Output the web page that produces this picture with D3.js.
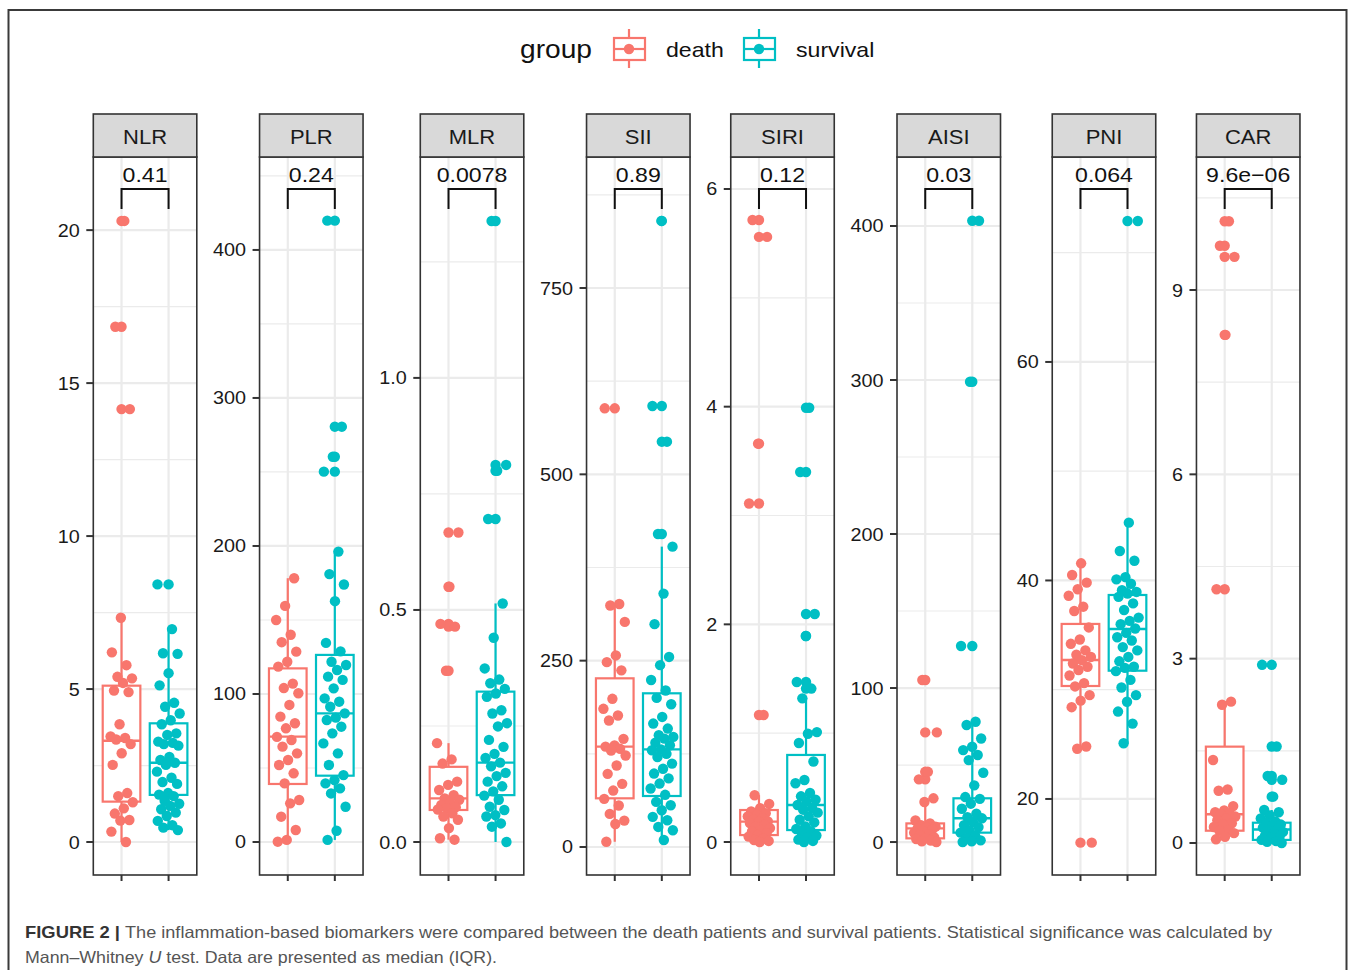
<!DOCTYPE html>
<html><head><meta charset="utf-8">
<script src="https://cdn.jsdelivr.net/npm/d3@7"></script>
<style>
body{margin:0;background:#fff}
svg{display:block}
text{font-family:"Liberation Sans", Arial, Helvetica, sans-serif}
</style>
</head><body>
<svg id="chart" width="1357" height="970"></svg>
<script>
// ---------------- data ----------------
const panels = ["NLR","PLR","MLR","SII","SIRI","AISI","PNI","CAR"];
const groups = ["death","survival"];
const pValues = ["0.41","0.24","0.0078","0.89","0.12","0.03","0.064","9.6e\u221206"];
const yLimits = [[-1.078,22.39],[-22.3,462.8],[-0.0711,1.476],[-37.6,925.8],[-0.303,6.294],[-21.4,444.8],[13.04,78.76],[-0.521,11.165]];
const yTicks = [[0,5,10,15,20],[0,100,200,300,400],[0,0.5,1.0],[0,250,500,750],[0,2,4,6],[0,100,200,300,400],[20,40,60],[0,3,6,9]];
const yTickLabels = [["0","5","10","15","20"],["0","100","200","300","400"],["0.0","0.5","1.0"],["0","250","500","750"],["0","2","4","6"],["0","100","200","300","400"],["20","40","60"],["0","3","6","9"]];

// box statistics (per panel)
const deathQ1     = [1.32, 39.2, 0.069, 65.3, 0.064, 2.4, 30.34, 0.2];
const deathMedian = [3.31, 71.2, 0.094, 134.6, 0.187, 8.9, 32.72, 0.467];
const deathQ3     = [5.11, 117.3, 0.162, 226.3, 0.294, 12.1, 36.02, 1.568];
const deathLower  = [0, 0.2, 0.005, 7, 0, 0, 24.6, 0.06];
const deathUpper  = [7.33, 178.2, 0.213, 326, 0.43, 28.4, 41.57, 2.3];
const survQ1      = [1.54, 44.8, 0.101, 68.4, 0.11, 6.1, 31.74, 0.05];
const survMedian  = [2.59, 86.9, 0.171, 131, 0.34, 15.4, 35.56, 0.22];
const survQ3      = [3.88, 126.4, 0.324, 206.2, 0.80, 28.4, 38.67, 0.33];
const survLower   = [0.39, 1.4, 0, 9.4, 0, 0, 25.1, 0];
const survUpper   = [6.96, 196.2, 0.514, 403, 1.32, 78.1, 45.29, 0.537];

// individual observations
const nlrDeath = [20.3,16.84,14.15,7.33,6.2,5.78,5.4,5.35,5.2,4.95,4.9,3.85,3.45,3.4,3.35,3.2,2.9,2.52,1.6,1.5,1.3,1.1,0.93,0.72,0.7,0.34,0.0];
const nlrSurvival = [8.42,6.96,6.17,6.15,5.52,5.12,4.55,4.42,4.2,3.98,3.85,3.55,3.5,3.28,3.24,3.2,3.15,2.78,2.68,2.59,2.52,2.3,2.1,1.96,1.9,1.6,1.55,1.5,1.35,1.25,1.18,1.07,0.96,0.85,0.69,0.55,0.47,0.39];
const plrDeath = [178.2,159.5,150,140,135,128.6,121.8,118.5,107,104,100.5,92.6,84.7,80.2,76.8,71,68.9,64.4,59.9,55.4,52,46.4,39.6,28.4,26.1,17.1,8.1,1.4,0.2];
const plrSurvival = [419.8,280.6,260.3,250.2,196.2,181,174,162.7,134.5,128.8,121.8,119.6,116.2,111.7,109.5,103.8,97,94.8,91.4,86.9,84,82.4,77.9,73.4,66.6,59.9,52,45.2,41.8,39.6,36.2,32.8,23.8,7.6,1.4];
const mlrDeath = [0.667,0.55,0.47,0.464,0.369,0.213,0.178,0.169,0.13,0.123,0.112,0.101,0.094,0.091,0.085,0.08,0.075,0.073,0.07,0.062,0.055,0.048,0.03,0.008,0.005];
const mlrSurvival = [1.338,0.8125,0.8,0.696,0.514,0.44,0.374,0.35,0.342,0.33,0.32,0.313,0.284,0.277,0.256,0.249,0.22,0.205,0.19,0.181,0.171,0.163,0.149,0.142,0.13,0.12,0.109,0.1,0.091,0.076,0.069,0.058,0.055,0.04,0.033,0.0];
const siiDeath = [588.6,326,324,302,257,248,237,198.8,185.4,176.4,169.7,145.1,136.2,134.6,131.7,129.4,122.7,109.3,98.1,84.7,75.7,64.6,55.6,44.4,35.4,30.9,7];
const siiSurvival = [840,591.7,543.8,420,403,340,299,255,244,224,210,200,191.5,174.5,165.6,158.9,150,147.7,145.4,140,136.5,131,129.8,125,120.8,111.9,105,98.5,92,85.1,78.4,70,60.5,56,49.3,40.4,35.9,26.9,22.4,9.4];
const siriDeath = [5.715,5.56,3.66,3.11,1.167,0.43,0.35,0.31,0.28,0.265,0.25,0.235,0.22,0.204,0.19,0.187,0.174,0.158,0.14,0.128,0.11,0.097,0.08,0.064,0.05,0.03,0.018,0.01,0.0];
const siriSurvival = [3.99,3.40,2.095,1.893,1.47,1.41,1.32,1.01,0.995,0.91,0.74,0.57,0.54,0.45,0.42,0.389,0.373,0.34,0.312,0.297,0.27,0.236,0.205,0.18,0.144,0.12,0.1,0.083,0.06,0.04,0.022,0.01,0.0];
const aisiDeath = [105.2,71.2,45.6,40.7,28.4,26,14,12.1,11,10,9.5,8.9,8,7,6,5,4.5,3,2.4,2,1,0.5,0.0];
const aisiSurvival = [403.4,298.9,127.3,78.1,76,67.2,61.9,59.7,56.5,53.2,45,36.8,29.2,28,24.9,21.6,18.4,16.2,15.4,13,11,9.7,7.6,6.1,4.3,2.5,1.1,0.5,0.0];
const pniDeath = [41.57,40.5,39.8,39.2,38.6,37.6,37.2,35.7,34.6,34.2,33.6,33.2,33,32.7,32.4,32.1,31.8,31.3,30.6,30.3,29.5,29,28.4,24.8,24.6,16.0];
const pniSurvival = [72.9,45.29,42.7,41.8,40.3,40.1,39.7,39.1,38.95,38.8,38.5,37.9,37.3,36.6,36.3,36,35.6,35.2,34.8,34.5,33.9,33.6,33,32.6,32.1,32,31.7,30.9,30.2,29.5,28.9,28.0,26.9,25.1];
const carDeath = [10.12,9.72,9.54,8.27,4.13,2.3,2.25,1.35,0.87,0.85,0.6,0.53,0.5,0.48,0.467,0.43,0.4,0.37,0.32,0.3,0.26,0.21,0.2,0.16,0.1,0.06];
const carSurvival = [2.9,1.57,1.09,1.03,0.754,0.537,0.5,0.45,0.4,0.35,0.33,0.3,0.28,0.25,0.22,0.2,0.18,0.15,0.12,0.1,0.08,0.05,0.03,0.02,0.0];

const deathValues = [nlrDeath, plrDeath, mlrDeath, siiDeath, siriDeath, aisiDeath, pniDeath, carDeath];
const survivalValues = [nlrSurvival, plrSurvival, mlrSurvival, siiSurvival, siriSurvival, aisiSurvival, pniSurvival, carSurvival];

// ---------------- style / layout ----------------
const colors = {death:"#F8766D", survival:"#00BFC4"};
const STRETCH = 1.1;           // the figure is slightly widened horizontally
const panelTop = 157, panelBottom = 875, stripTop = 114;
const panelW = 103.5, firstLeft = 93.3, panelGap = 16.2;
const tickLen = 7, tickGap = 6.5;
const ptR = 5.2;

const svg = d3.select("#chart");

function addText(sel, x, y, str, size, anchor, opts={}) {
  const t = sel.append("text").attr("x", x).attr("y", y)
    .attr("font-size", size).attr("text-anchor", anchor || "start")
    .attr("fill", opts.fill || "#1a1a1a").text(str);
  if (opts.weight) t.attr("font-weight", opts.weight);
  const w = t.node().getComputedTextLength();
  const target = opts.length || w * STRETCH;
  t.attr("textLength", target).attr("lengthAdjust", "spacingAndGlyphs");
  return target;
}

// measure tick-label widths to lay panels out like facet_wrap with free y scales
const meas = svg.append("g").attr("opacity", 0);
const labelW = yTickLabels.map(labs => d3.max(labs, l => {
  const t = meas.append("text").attr("font-size", 18).text(l);
  return t.node().getComputedTextLength() * STRETCH;
}));
meas.remove();

const lefts = [];
panels.forEach((p, i) => {
  if (i === 0) lefts.push(firstLeft);
  else lefts.push(lefts[i-1] + panelW + panelGap + labelW[i] + tickGap + tickLen);
});

// outer frame
svg.append("rect").attr("x", 8.5).attr("y", 10).attr("width", 1338).attr("height", 1000)
  .attr("fill", "none").attr("stroke", "#3a3a3a").attr("stroke-width", 2);

// jitter (deterministic, low-discrepancy)
function jitter(i, g) {
  const u = ((i + 1) * 0.6180339887 + g * 0.41) % 1;
  return (u * 2 - 1) * 0.25;
}

panels.forEach((name, pi) => {
  const left = lefts[pi];
  const x = d3.scaleLinear().domain([0.4, 2.6]).range([left, left + panelW]);
  const y = d3.scaleLinear().domain(yLimits[pi]).range([panelBottom, panelTop]);
  const g = svg.append("g");

  const ticks = yTicks[pi];
  const step = ticks[1] - ticks[0];
  const minors = [];
  for (let v = ticks[0] - step / 2; v <= yLimits[pi][1]; v += step) {
    if (v >= yLimits[pi][0]) minors.push(v);
  }
  g.selectAll(".minor").data(minors).join("line")
    .attr("x1", left).attr("x2", left + panelW)
    .attr("y1", d => y(d)).attr("y2", d => y(d))
    .attr("stroke", "#EBEBEB").attr("stroke-width", 1.2);
  g.selectAll(".major").data(ticks).join("line")
    .attr("x1", left).attr("x2", left + panelW)
    .attr("y1", d => y(d)).attr("y2", d => y(d))
    .attr("stroke", "#EBEBEB").attr("stroke-width", 2.2);
  g.selectAll(".vgrid").data([1, 2]).join("line")
    .attr("x1", d => x(d)).attr("x2", d => x(d))
    .attr("y1", panelTop).attr("y2", panelBottom)
    .attr("stroke", "#EBEBEB").attr("stroke-width", 2.2);

  const stats = [
    {g:"death", pos:1, q1:deathQ1[pi], med:deathMedian[pi], q3:deathQ3[pi], lo:deathLower[pi], hi:deathUpper[pi], vals:deathValues[pi]},
    {g:"survival", pos:2, q1:survQ1[pi], med:survMedian[pi], q3:survQ3[pi], lo:survLower[pi], hi:survUpper[pi], vals:survivalValues[pi]}
  ];
  const bw = 0.8;
  stats.forEach(s => {
    const c = colors[s.g];
    const bg = g.append("g").attr("stroke", c).attr("stroke-width", 2.2).attr("fill", "none");
    bg.append("line").attr("x1", x(s.pos)).attr("x2", x(s.pos)).attr("y1", y(s.q3)).attr("y2", y(s.hi));
    bg.append("line").attr("x1", x(s.pos)).attr("x2", x(s.pos)).attr("y1", y(s.q1)).attr("y2", y(s.lo));
    bg.append("rect").attr("x", x(s.pos - bw/2)).attr("width", x(s.pos + bw/2) - x(s.pos - bw/2))
      .attr("y", y(s.q3)).attr("height", y(s.q1) - y(s.q3)).attr("fill", "#fff");
    bg.append("line").attr("x1", x(s.pos - bw/2)).attr("x2", x(s.pos + bw/2))
      .attr("y1", y(s.med)).attr("y2", y(s.med)).attr("stroke-width", 2.4);
    const outl = s.vals.filter(v => v > s.hi || v < s.lo);
    g.selectAll(null).data(outl).join("circle")
      .attr("cx", x(s.pos)).attr("cy", d => y(d)).attr("r", ptR).attr("fill", c);
  });
  stats.forEach((s, gi) => {
    g.selectAll(null).data(s.vals).join("circle")
      .attr("cx", (d, i) => x(s.pos + jitter(i, gi + pi * 0.37)))
      .attr("cy", d => y(d)).attr("r", ptR).attr("fill", colors[s.g]);
  });

  // significance bracket
  const by = panelTop + 32, legY = panelTop + 52;
  g.append("path")
    .attr("d", `M${x(1)},${legY}V${by}H${x(2)}V${legY}`)
    .attr("fill", "none").attr("stroke", "#111").attr("stroke-width", 2);
  addText(g, x(1.5), panelTop + 25, pValues[pi], 21, "middle", {fill:"#111"});

  // panel border
  g.append("rect").attr("x", left).attr("y", panelTop).attr("width", panelW).attr("height", panelBottom - panelTop)
    .attr("fill", "none").attr("stroke", "#333").attr("stroke-width", 1.6);
  // strip
  g.append("rect").attr("x", left).attr("y", stripTop).attr("width", panelW).attr("height", panelTop - stripTop)
    .attr("fill", "#D9D9D9").attr("stroke", "#333").attr("stroke-width", 1.6);
  addText(g, left + panelW / 2, 143.5, name, 20, "middle", {fill:"#1a1a1a"});

  // y axis
  ticks.forEach((t, ti) => {
    g.append("line").attr("x1", left - tickLen).attr("x2", left).attr("y1", y(t)).attr("y2", y(t))
      .attr("stroke", "#333").attr("stroke-width", 2);
    addText(g, left - tickLen - tickGap, y(t) + 6.5, yTickLabels[pi][ti], 18, "end", {fill:"#1a1a1a"});
  });
  [1, 2].forEach(p => {
    g.append("line").attr("x1", x(p)).attr("x2", x(p)).attr("y1", panelBottom).attr("y2", panelBottom + 6)
      .attr("stroke", "#333").attr("stroke-width", 2);
  });
});

// ---------------- legend ----------------
const lg = svg.append("g");
addText(lg, 520, 58, "group", 25, "start", {fill:"#111", length:72});
const keyX = [612, 742], labX = [666, 796];
groups.forEach((gname, i) => {
  const c = colors[gname];
  const kx = keyX[i], cx = kx + 17;
  const k = lg.append("g").attr("stroke", c).attr("stroke-width", 2.2).attr("fill", "none");
  k.append("line").attr("x1", cx).attr("x2", cx).attr("y1", 29).attr("y2", 38);
  k.append("line").attr("x1", cx).attr("x2", cx).attr("y1", 60).attr("y2", 68);
  k.append("rect").attr("x", kx + 2).attr("y", 38).attr("width", 31).attr("height", 22).attr("fill", "#fff");
  k.append("line").attr("x1", kx + 2).attr("x2", kx + 33).attr("y1", 49).attr("y2", 49);
  lg.append("circle").attr("cx", cx).attr("cy", 49).attr("r", ptR).attr("fill", c);
  addText(lg, labX[i], 56.5, gname, 21, "start", {fill:"#111"});
});

// ---------------- caption ----------------
const cap = svg.append("g");
addText(cap, 25, 938, "FIGURE 2 |", 16.5, "start", {fill:"#333", weight:"bold", length:95});
addText(cap, 125, 938, "The inflammation-based biomarkers were compared between the death patients and survival patients. Statistical significance was calculated by", 16.5, "start", {fill:"#555", length:1147});
const l2 = cap.append("text").attr("x", 25).attr("y", 963).attr("font-size", 16.5).attr("fill", "#555")
  .attr("textLength", 472).attr("lengthAdjust", "spacingAndGlyphs");
l2.append("tspan").text("Mann\u2013Whitney ");
l2.append("tspan").attr("font-style", "italic").text("U");
l2.append("tspan").text(" test. Data are presented as median (IQR).");
</script>
</body></html>
